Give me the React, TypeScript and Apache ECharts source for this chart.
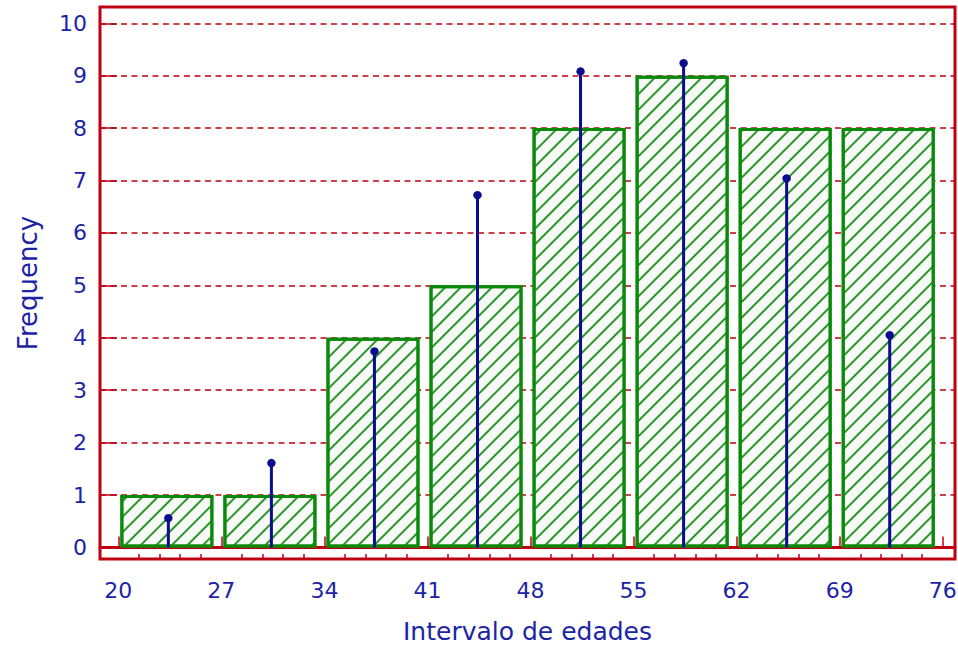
import React, { useEffect, useRef } from 'react';
import * as echarts from 'echarts';

// ---- data ----
const intervalStarts = [20, 27, 34, 41, 48, 55, 62, 69];
const frequencies = [1, 1, 4, 5, 8, 9, 8, 8];
const expectedFrequencies = [0.56, 1.61, 3.74, 6.72, 9.08, 9.24, 7.04, 4.05];
const xTickValues = [20, 27, 34, 41, 48, 55, 62, 69, 76];
const yTickValues = [0, 1, 2, 3, 4, 5, 6, 7, 8, 9, 10];
const xAxisName = 'Intervalo de edades';
const yAxisName = 'Frequency';

// ---- layout / style constants ----
const X_MIN = 18.757;
const X_MAX = 76.836;
const Y_MIN = -0.22;
const Y_MAX = 10.31;
const BAR_OFFSET = 3.3; // bar centre relative to interval start
const STEM_OFFSET = 3.4;
const RED = '#c00010';
const GREEN = '#0a8a0a';
const NAVY = '#0c0c8e';
const LABEL = '#1c24a6';
const FONT = 'DejaVu Sans';

const minorTicks: number[] = [];
for (let i = 0; i < xTickValues.length - 1; i++) {
  for (let k = 1; k < 5; k++) {
    minorTicks.push(xTickValues[i] + (k * (xTickValues[i + 1] - xTickValues[i])) / 5);
  }
}

export default function App() {
  const ref = useRef<HTMLDivElement>(null);
  useEffect(() => {
    if (!ref.current) return;
    const chart = echarts.init(ref.current, null, { renderer: 'svg' });
    chart.setOption({
      animation: false,
      backgroundColor: '#ffffff',
      grid: {
        left: 100,
        right: 3,
        top: 7,
        bottom: 90,
        show: true,
        borderColor: RED,
        borderWidth: 3,
        backgroundColor: 'transparent',
        outerBoundsMode: 'none',
      },
      xAxis: [
        {
          type: 'value',
          position: 'bottom',
          min: X_MIN,
          max: X_MAX,
          name: xAxisName,
          nameLocation: 'middle',
          nameGap: 60,
          nameMoveOverlap: false,
          nameTextStyle: { color: LABEL, fontSize: 25, fontFamily: FONT },
          axisLine: { show: true, lineStyle: { color: RED, width: 3 } },
          axisTick: {
            show: true,
            inside: true,
            length: 11,
            customValues: xTickValues,
            lineStyle: { color: RED, width: 1.5 },
          },
          axisLabel: {
            customValues: xTickValues,
            color: LABEL,
            fontSize: 22,
            fontFamily: FONT,
            margin: 20,
            showMinLabel: true,
            showMaxLabel: true,
          },
          splitLine: { show: false },
        },
        {
          type: 'value',
          position: 'bottom',
          min: X_MIN,
          max: X_MAX,
          axisLine: { show: false },
          axisTick: {
            show: true,
            inside: true,
            length: 5,
            customValues: minorTicks,
            lineStyle: { color: RED, width: 1.5 },
          },
          axisLabel: { show: false },
          splitLine: { show: false },
        },
      ],
      yAxis: {
        type: 'value',
        min: Y_MIN,
        max: Y_MAX,
        name: yAxisName,
        nameLocation: 'middle',
        nameGap: 59,
        nameMoveOverlap: false,
        nameRotate: 90,
        nameTextStyle: { color: LABEL, fontSize: 26, fontFamily: FONT },
        axisLine: { show: false },
        axisTick: {
          show: true,
          inside: true,
          length: 17,
          customValues: yTickValues,
          lineStyle: { color: RED, width: 1.5 },
        },
        axisLabel: {
          customValues: yTickValues,
          color: LABEL,
          fontSize: 22,
          fontFamily: FONT,
          margin: 13,
        },
        splitLine: {
          show: true,
          lineStyle: { color: RED, width: 1.5, type: [6, 4.5] },
        },
      },
      series: [
        {
          type: 'bar',
          xAxisIndex: 0,
          yAxisIndex: 0,
          barWidth: 93,
          data: intervalStarts.map((s, i) => [s + BAR_OFFSET, frequencies[i]]),
          itemStyle: {
            color: '#f7faf7',
            borderColor: GREEN,
            borderWidth: 3,
            decal: {
              symbol: 'rect',
              symbolSize: 1,
              color: '#2a962a',
              dashArrayX: [1, 0],
              dashArrayY: [1.2, 8.4],
              rotation: -Math.PI / 4,
            },
          },
          z: 2,
        },
        {
          type: 'custom',
          xAxisIndex: 0,
          yAxisIndex: 0,
          data: intervalStarts.map((s, i) => [s + STEM_OFFSET, expectedFrequencies[i]]),
          renderItem: (params: any, api: any) => {
            const base = api.coord([api.value(0), 0]);
            const top = api.coord([api.value(0), api.value(1)]);
            return {
              type: 'group',
              children: [
                {
                  type: 'line',
                  shape: { x1: base[0], y1: base[1], x2: top[0], y2: top[1] },
                  style: { stroke: NAVY, lineWidth: 3 },
                },
                {
                  type: 'circle',
                  shape: { cx: top[0], cy: top[1], r: 4.2 },
                  style: { fill: NAVY },
                },
              ],
            };
          },
          z: 3,
        },
      ],
    });
    return () => chart.dispose();
  }, []);
  return (
    <div
      ref={ref}
      style={{ position: 'absolute', left: 0, top: 0, width: 958, height: 649 }}
    />
  );
}
